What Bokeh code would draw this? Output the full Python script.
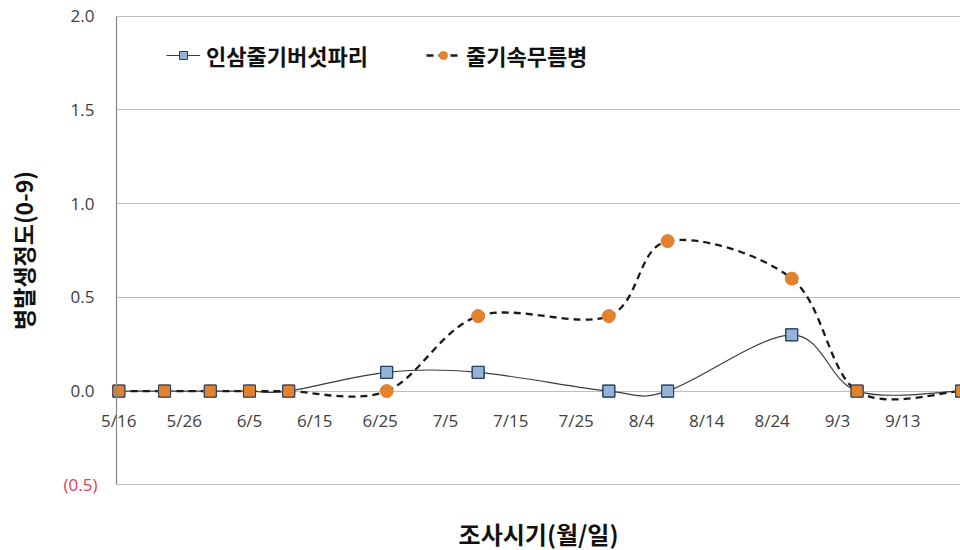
import pandas as pd
from bokeh.plotting import figure
from bokeh.models import (Range1d, FixedTicker, LinearAxis, Legend, LegendItem, Label, Grid)
from bokeh.embed import file_html
from bokeh.resources import INLINE

# ---------------- data ----------------
survey_dates = ["5/16", "5/23", "5/30", "6/5", "6/11", "6/26", "7/10", "7/30", "8/8", "8/27", "9/6", "9/22"]
fly_values = [0, 0, 0, 0, 0, 0.1, 0.1, 0, 0, 0.3, 0, 0]          # 인삼줄기버섯파리
rot_values = [0, 0, 0, 0, 0, 0, 0.4, 0.4, 0.8, 0.6, 0, 0]        # 줄기속무름병
series_names = ["인삼줄기버섯파리", "줄기속무름병"]
x_tick_labels = ["5/16", "5/26", "6/5", "6/15", "6/25", "7/5", "7/15", "7/25",
                 "8/4", "8/14", "8/24", "9/3", "9/13"]
y_ticks = [-0.5, 0.0, 0.5, 1.0, 1.5, 2.0]
y_tick_labels = ["(0.5)", "0.0", "0.5", "1.0", "1.5", "2.0"]
x_title = "조사시기(월/일)"
y_title = "병발생정도(0-9)"

KFONT = "Noto Sans CJK KR"
NFONT = "Open Sans"


def to_day(s):
    m, d = s.split("/")
    return (pd.Timestamp(year=2000, month=int(m), day=int(d)) - pd.Timestamp(year=2000, month=5, day=16)).days


xs = [to_day(s) for s in survey_dates]
x_ticks = [to_day(s) for s in x_tick_labels]

# layout of the plotting area (Excel-like: axes drawn inside a frame that fills the canvas)
AXIS_X = -0.35                   # where the vertical axis sits (days)
X_START, X_END = -18.11, 128.83
Y_BOTTOM, Y_TOP = -0.85, 2.083
Y_MIN, Y_MAX = y_ticks[0], y_ticks[-1]
X_TITLE_Y = Y_MIN - 0.262        # vertical position of the x-axis title


def smooth_segments(x, y):
    """Excel-like smoothed line: cubic Bezier segments (Catmull-Rom control points)."""
    n = len(x)
    out = dict(x0=[], y0=[], x1=[], y1=[], cx0=[], cy0=[], cx1=[], cy1=[])
    for i in range(n - 1):
        xp, yp = (x[i - 1], y[i - 1]) if i > 0 else (x[i], y[i])
        xn, yn = (x[i + 2], y[i + 2]) if i + 2 < n else (x[i + 1], y[i + 1])
        out["x0"].append(x[i]); out["y0"].append(y[i])
        out["x1"].append(x[i + 1]); out["y1"].append(y[i + 1])
        out["cx0"].append(x[i] + (x[i + 1] - xp) / 6.0)
        out["cy0"].append(y[i] + (y[i + 1] - yp) / 6.0)
        out["cx1"].append(x[i + 1] - (xn - x[i]) / 6.0)
        out["cy1"].append(y[i + 1] - (yn - y[i]) / 6.0)
    return out


p = figure(width=960, height=550, output_backend="svg", toolbar_location=None, tools="",
           x_range=Range1d(X_START, X_END), y_range=Range1d(Y_BOTTOM, Y_TOP),
           min_border_left=0, min_border_right=0, min_border_top=0, min_border_bottom=0,
           x_axis_location=None, y_axis_location=None)
p.outline_line_color = None
p.background_fill_color = "white"
p.border_fill_color = "white"

# horizontal grid lines, starting at the vertical axis
p.xgrid.visible = False
if "cross_bounds" in Grid.properties():
    p.ygrid.ticker = FixedTicker(ticks=y_ticks)
    p.ygrid.bounds = (Y_MIN - 0.05, Y_MAX + 0.05)
    p.ygrid.cross_bounds = (AXIS_X, X_END)
    p.ygrid.grid_line_color = "#BFBFBF"
    p.ygrid.grid_line_width = 1.2
else:
    p.ygrid.visible = False
    p.segment(x0=[AXIS_X] * len(y_ticks), x1=[X_END] * len(y_ticks), y0=y_ticks, y1=y_ticks,
              line_color="#BFBFBF", line_width=1.2, level="underlay")

# y axis (fixed at the left edge of the plotting area)
ya = LinearAxis(fixed_location=AXIS_X, bounds=(Y_MIN, Y_MAX), ticker=FixedTicker(ticks=y_ticks),
                major_label_overrides={t: (lab if t >= 0 else "") for t, lab in zip(y_ticks, y_tick_labels)},
                major_tick_line_color=None, minor_tick_line_color=None, major_tick_out=0, minor_tick_out=0,
                axis_line_color="#868686", axis_line_width=1.2,
                major_label_standoff=22, major_label_text_font=NFONT,
                major_label_text_font_size="17px", major_label_text_color="#404040",
                axis_label=y_title, axis_label_text_font=KFONT, axis_label_text_font_size="23px",
                axis_label_text_font_style="bold", axis_label_text_color="#111111",
                axis_label_standoff=28)
p.add_layout(ya, "left")

# negative tick label in red, Excel style
neg_idx = [i for i, t in enumerate(y_ticks) if t < 0][0]
p.add_layout(Label(x=AXIS_X, y=y_ticks[neg_idx], x_offset=-19, text=y_tick_labels[neg_idx],
                   text_align="right", text_baseline="middle", text_font=NFONT,
                   text_font_size="17px", text_color="#E0405A"))

# x axis crossing at y = 0
xa = LinearAxis(fixed_location=0, ticker=FixedTicker(ticks=x_ticks),
                major_label_overrides={t: lab for t, lab in zip(x_ticks, x_tick_labels)},
                major_tick_line_color=None, minor_tick_line_color=None, major_tick_out=0, minor_tick_out=0,
                axis_line_color=None, major_label_standoff=18, major_label_text_font=NFONT,
                major_label_text_font_size="17px", major_label_text_color="#404040")
p.add_layout(xa, "below")

# x-axis title
p.add_layout(Label(x=(AXIS_X + X_END) / 2, y=X_TITLE_Y, text=x_title, text_align="center",
                   text_baseline="middle", text_font=KFONT, text_font_size="24px",
                   text_font_style="bold", text_color="#111111"))

# curves
fly_seg = smooth_segments(xs, fly_values)
rot_seg = smooth_segments(xs, rot_values)
fly_curve = p.bezier(source=fly_seg, x0="x0", y0="y0", x1="x1", y1="y1",
                     cx0="cx0", cy0="cy0", cx1="cx1", cy1="cy1",
                     line_color="#3A3A3A", line_width=1.2)
rot_curve = p.bezier(source=rot_seg, x0="x0", y0="y0", x1="x1", y1="y1",
                     cx0="cx0", cy0="cy0", cx1="cx1", cy1="cy1",
                     line_color="#1A1A1A", line_width=2.3, line_dash="7 5")

fly_pts = p.scatter(xs, fly_values, marker="square", size=12, fill_color="#95B3D7",
                    line_color="#243F60", line_width=1)
rot_pts = p.scatter(xs, rot_values, marker="circle", size=13, fill_color="#E2822E",
                    line_color="#E2822E", line_width=1)
p.scatter(xs, fly_values, marker="square", size=12, fill_color=None,
          line_color="#243F60", line_width=1)

legend = Legend(items=[LegendItem(label=series_names[0], renderers=[fly_curve, fly_pts]),
                       LegendItem(label=series_names[1], renderers=[rot_curve, rot_pts])],
                orientation="horizontal", location=(166, 479), glyph_width=34, glyph_height=20,
                label_standoff=6, spacing=58, padding=0, margin=0,
                border_line_color=None, background_fill_alpha=0,
                label_text_font=KFONT, label_text_font_size="22px",
                label_text_font_style="bold", label_text_color="#111111")
p.add_layout(legend)

open("out.html", "w").write(file_html(p, INLINE))
